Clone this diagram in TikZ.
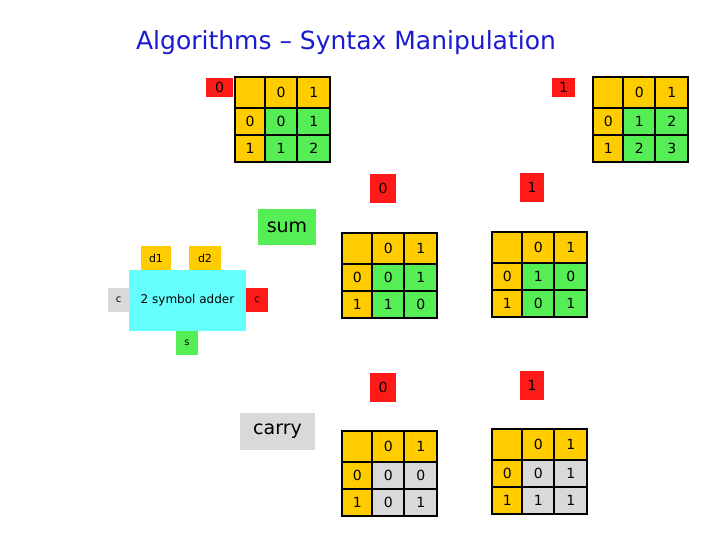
\documentclass[tikz,border=0pt]{standalone}
\usepackage{fontspec}
\setmainfont{DejaVu Sans}
\definecolor{cy}{HTML}{FFCC00}
\definecolor{cg}{HTML}{55EE55}
\definecolor{cr}{HTML}{FF1A1A}
\definecolor{cgr}{HTML}{D9D9D9}
\definecolor{ccy}{HTML}{66FFFF}
\definecolor{ctitle}{HTML}{1A1AD0}
\tikzset{cell/.style={fill=#1,inner sep=0pt,anchor=north west,font=\fontsize{14}{16}\selectfont},
 lab/.style={fill=#1,inner sep=0pt,font=\fontsize{14}{16}\selectfont}}
\newcommand\tab[8]{%
\begin{scope}[shift={(#2,#3)}]
\node[cell=cy,minimum width=30pt,minimum height=31pt] (#1h0) at (0,0) {};
\node[cell=cy,minimum width=32pt,minimum height=31pt] (#1h1) at (30,0) {0};
\node[cell=cy,minimum width=33pt,minimum height=31pt] (#1h2) at (62,0) {1};
\node[cell=cy,minimum width=30pt,minimum height=27pt] (#1r1) at (0,31) {0};
\node[cell=cy,minimum width=30pt,minimum height=27pt] (#1r2) at (0,58) {1};
\node[cell=#4,minimum width=32pt,minimum height=27pt] (#1a) at (30,31) {#5};
\node[cell=#4,minimum width=33pt,minimum height=27pt] (#1b) at (62,31) {#6};
\node[cell=#4,minimum width=32pt,minimum height=27pt] (#1c) at (30,58) {#7};
\node[cell=#4,minimum width=33pt,minimum height=27pt] (#1d) at (62,58) {#8};
\draw[line width=2.5pt] (0,0) rectangle (95,85) (30,0)--(30,85) (62,0)--(62,85) (0,31)--(95,31) (0,58)--(95,58);
\end{scope}}
\begin{document}
\begin{tikzpicture}[x=1pt,y=-1pt]
\useasboundingbox (0,0) rectangle (720,540);
\node[text=ctitle,font=\fontsize{25}{30}\selectfont] (title) at (346,43) {Algorithms – Syntax Manipulation};
% top
\node[lab=cr,minimum width=27pt,minimum height=19pt] (t0) at (219.5,87.5) {0};
\tab{A}{235}{77}{cg}{0}{1}{1}{2}
\node[lab=cr,minimum width=23pt,minimum height=19pt] (t1) at (563.5,87.5) {1};
\tab{B}{593}{77}{cg}{1}{2}{2}{3}
% middle
\node[lab=cr,minimum width=26pt,minimum height=29pt] (m0) at (383,188.5) {0};
\tab{C}{342}{233}{cg}{0}{1}{1}{0}
\node[lab=cr,minimum width=24pt,minimum height=29pt] (m1) at (532,187.5) {1};
\tab{D}{492}{232}{cg}{1}{0}{0}{1}
% bottom
\node[lab=cr,minimum width=26pt,minimum height=29pt] (b0) at (383,387.5) {0};
\tab{E}{342}{431}{cgr}{0}{0}{0}{1}
\node[lab=cr,minimum width=24pt,minimum height=29pt] (b1) at (532,385.5) {1};
\tab{F}{492}{429}{cgr}{0}{1}{1}{1}
% adder
\node[lab=cg,minimum width=58pt,minimum height=36pt,font=\fontsize{19}{22}\selectfont] (sum) at (287,227) {sum};
\node[lab=cgr,minimum width=75pt,minimum height=37pt,font=\fontsize{19}{22}\selectfont] (carry) at (277.5,431.5) {carry};
\node[lab=ccy,minimum width=117pt,minimum height=61pt,font=\fontsize{12}{14}\selectfont] (add) at (187.5,300.5) {2 symbol adder};
\node[lab=cy,minimum width=30pt,minimum height=24pt,font=\fontsize{11}{13}\selectfont] (d1) at (156,258) {d1};
\node[lab=cy,minimum width=32pt,minimum height=24pt,font=\fontsize{11}{13}\selectfont] (d2) at (205,258) {d2};
\node[lab=cgr,minimum width=21pt,minimum height=24pt,font=\fontsize{10}{12}\selectfont] (cin) at (118.5,300) {c};
\node[lab=cr,minimum width=22pt,minimum height=24pt,font=\fontsize{10}{12}\selectfont] (cout) at (257,300) {c};
\node[lab=cg,minimum width=22pt,minimum height=24pt,font=\fontsize{10}{12}\selectfont] (s) at (187,343) {s};
\end{tikzpicture}
\end{document}
